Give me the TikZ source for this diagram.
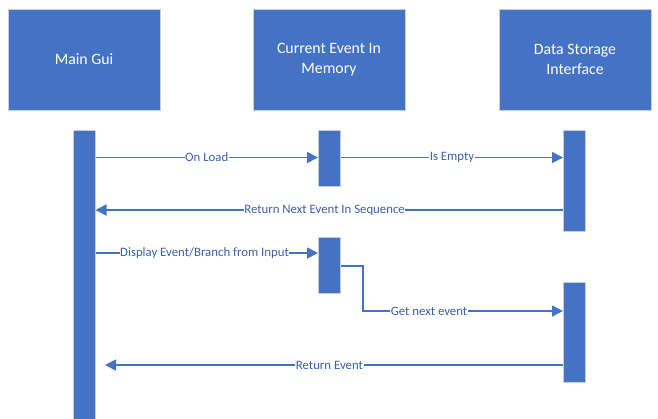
\documentclass[tikz,border=0pt]{standalone}
\usepackage{fontspec}
\setmainfont{Carlito}
\usetikzlibrary{arrows.meta,calc}
\definecolor{obl}{HTML}{4472C4}
\definecolor{lbl}{HTML}{3A5FAE}
\definecolor{edge}{HTML}{C9CED6}
\begin{document}
\begin{tikzpicture}[x=1pt,y=-1pt,
  header/.style={draw=edge,line width=1pt,fill=obl,text=white,minimum width=152pt,minimum height=101pt,
    inner sep=0pt,align=center,font=\fontsize{15.8}{20}\selectfont},
  bar/.style={draw=edge,line width=1pt,fill=obl,minimum width=22pt,inner sep=0pt},
  msg/.style={draw=obl,line width=1.8pt,-{Triangle[length=11pt,width=11pt]}},
  lab/.style={fill=white,text=lbl,inner sep=0.6pt,font=\fontsize{12.8}{13}\selectfont}]
\useasboundingbox (0,0) rectangle (658,418);
% headers
\node[header] (hmg) at (84,59.5) {Main Gui};
\node[header] (hcm) at (329,59.5) {Current Event In\\Memory};
\node[header] (hds) at (575,59.5) {Data Storage\\Interface};
% activation bars
\node[bar,minimum height=290pt] (mg) at (84,275) {};
\node[bar,minimum height=56pt] (cm1) at (329.5,158) {};
\node[bar,minimum height=56pt] (cm2) at (329.5,265) {};
\node[bar,minimum height=101pt] (ds1) at (574.5,181) {};
\node[bar,minimum height=100pt] (ds2) at (574.5,332.5) {};
% y levels
\coordinate (y1) at (0,157.5);
\coordinate (y2) at (0,210);
\coordinate (y3) at (0,253);
\coordinate (y4) at (0,266);
\coordinate (y5) at (0,311);
\coordinate (y6) at (0,365);
\coordinate (rtip) at (105,365);
\coordinate (bend) at (363,0);
% messages
\draw[msg] (mg.east |- y1) -- node[lab]{On Load} (cm1.west |- y1);
\draw[msg] (cm1.east |- y1) -- node[lab]{Is Empty} (ds1.west |- y1);
\draw[msg] (ds1.west |- y2) -- node[lab,pos=0.51]{Return Next Event In Sequence} (mg.east |- y2);
\draw[msg] (mg.east |- y3) -- node[lab,pos=0.49]{Display Event/Branch from Input} (cm2.west |- y3);
\draw[msg] (cm2.east |- y4) -- (bend |- y4) -- (bend |- y5) -- node[lab,pos=0.33]{Get next event} (ds2.west |- y5);
\draw[msg] (ds2.west |- y6) -- node[lab,pos=0.51]{Return Event} (rtip);
\end{tikzpicture}
\end{document}
